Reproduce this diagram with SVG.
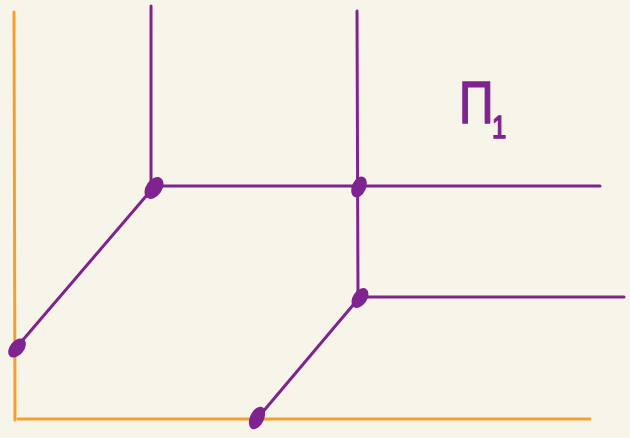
<svg xmlns="http://www.w3.org/2000/svg" width="630" height="438" viewBox="0 0 630 438">
<style>
.ax{stroke:#f4a02e;stroke-width:3;fill:none;stroke-linecap:round}
.ln{stroke:#7e2390;stroke-width:3;fill:none;stroke-linecap:round}
.dot{fill:#7e2390}
.lbl{fill:#7e2390;stroke:#7e2390;stroke-width:1.5;font-family:"Liberation Sans",sans-serif}
</style>
<rect width="630" height="438" fill="#f7f5ea"/>
<g id="axes">
<path class="ax" d="M14 12 L15 420"/>
<path class="ax" d="M18 419 L590 419"/>
</g>
<g id="connectors">
<path class="ln" d="M151 6 L151 188"/>
<path class="ln" d="M357 11 L358 298"/>
<path class="ln" d="M153 186 L600 186"/>
<path class="ln" d="M360 297 L624 297"/>
<path class="ln" d="M153 188 L16 348"/>
<path class="ln" d="M359 298 L256 420"/>
</g>
<g id="points">
<ellipse class="dot" cx="154" cy="188" rx="8" ry="12" transform="rotate(35 154 188)"/>
<ellipse class="dot" cx="359" cy="187" rx="7" ry="11" transform="rotate(25 359 187)"/>
<ellipse class="dot" cx="360" cy="298" rx="7" ry="11" transform="rotate(35 360 298)"/>
<ellipse class="dot" cx="17" cy="348" rx="7" ry="11" transform="rotate(40 17 348)"/>
<ellipse class="dot" cx="257" cy="418" rx="7" ry="12" transform="rotate(25 257 418)"/>
</g>
<g id="label">
<text class="lbl" x="0" y="0" font-size="60" transform="translate(459 123) scale(0.8 1)">П<tspan font-size="32" dx="-2" dy="15">1</tspan></text>
</g>
</svg>
